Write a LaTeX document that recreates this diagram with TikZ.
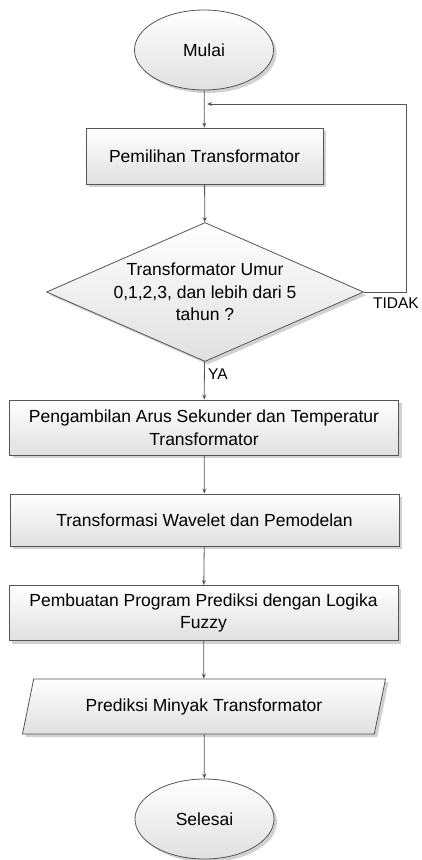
\documentclass[tikz,border=0pt]{standalone}
\usepackage{fontspec}
\setmainfont{Liberation Sans}
\usetikzlibrary{shapes.geometric,shadows,arrows.meta}
\definecolor{garis}{RGB}{85,85,85}
\definecolor{isi}{RGB}{224,224,224}

\begin{document}
\begin{tikzpicture}[x=1pt,y=-1pt,
    >={Stealth[length=5pt,width=4pt]},
    every node/.style={font=\fontsize{17.5}{22.5}\selectfont},
    bentuk/.style={draw=garis,line width=0.8pt,top color=white,bottom color=isi,
        drop shadow={shadow xshift=3pt,shadow yshift=-3pt,fill=black!18,opacity=1}},
    terminal/.style={bentuk,ellipse,minimum width=139pt,minimum height=80pt,inner sep=0pt},
    proses/.style={bentuk,rectangle,align=center,minimum width=389pt,minimum height=55pt},
    keputusan/.style={bentuk,diamond,aspect=2.28,align=center,minimum width=317pt,minimum height=139pt,inner sep=-6pt},
    data/.style={bentuk,trapezium,trapezium left angle=64,trapezium right angle=116,
        trapezium stretches body,minimum width=363pt,minimum height=55pt},
    label/.style={anchor=north west,inner sep=0pt,font=\fontsize{15.5}{18}\selectfont},
    panah/.style={draw=garis,line width=0.8pt,->}]
    \useasboundingbox (0,0) rectangle (422,860);
    % simbol alir
    \node[terminal] (mulai) at (204,50) {Mulai};
    \node[proses,minimum width=237pt,minimum height=56pt] (pemilihan) at (204.5,156) {Pemilihan Transformator};
    \node[keputusan] (cek) at (205,292) {Transformator Umur\\0,1,2,3, dan lebih dari 5\\tahun ?};
    \node[proses] (arus) at (204,427.5) {Pengambilan Arus Sekunder dan Temperatur\\Transformator};
    \node[proses,minimum height=52pt] (wavelet) at (204.5,520) {Transformasi Wavelet dan Pemodelan};
    \node[proses] (fuzzy) at (203.5,613) {Pembuatan Program Prediksi dengan Logika\\Fuzzy};
    \node[data] (prediksi) at (204,706.5) {Prediksi Minyak Transformator};
    \node[terminal] (selesai) at (204.5,819) {Selesai};
    % label keputusan
    \node[label] (tidak) at ([xshift=9pt,yshift=-6pt]cek.east) {TIDAK};
    \node[label] (ya) at ([xshift=3pt,yshift=-6.5pt]cek.south) {YA};
    \coordinate (balik) at (207,104);
    % garis alir
    \draw[panah] (mulai) -- (pemilihan);
    \draw[panah] (pemilihan) -- (cek);
    \draw[panah] (cek.east) -- ++(42,0) |- (balik);
    \draw[panah] (cek) -- (arus);
    \draw[panah] (arus) -- (wavelet);
    \draw[panah] (wavelet) -- (fuzzy);
    \draw[panah] (fuzzy) -- (prediksi);
    \draw[panah] (prediksi) -- (selesai);
\end{tikzpicture}
\end{document}
